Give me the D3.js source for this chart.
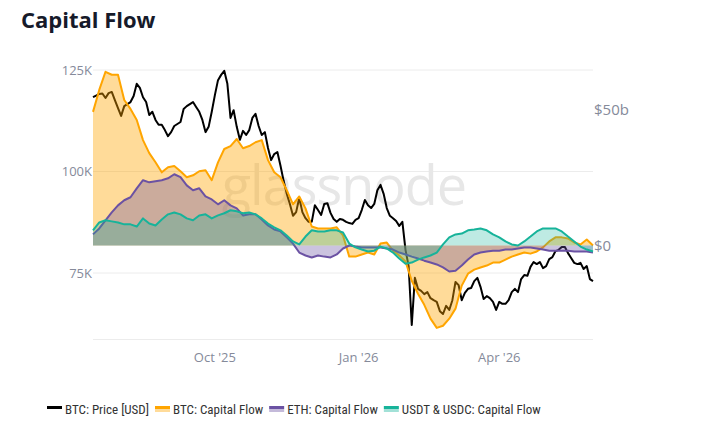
<!DOCTYPE html>
<html><head><meta charset="utf-8">
<script src="https://cdn.jsdelivr.net/npm/d3@7"></script>
<style>
body{margin:0;background:#fff;}
svg{display:block;font-family:"Open Sans","Noto Sans",sans-serif;}
</style></head><body>
<svg id="c" width="718" height="430"></svg>
<script>
// ---------- data ----------
const startDate = "2025-07-15";
const priceStepDays = 2;   // price sampled every 2 days
const flowStepDays = 4;    // flows sampled every 4 days
// BTC price, thousands of USD
const btcPrice = [
 118.3,118.7,119.1,119.2,118.1,119.3,119.6,117.6,115.6,113.7,
 116.1,116.6,117.1,118.6,121.6,120.6,118.3,117.1,113.9,114.7,
 112.7,111.5,111.5,110.2,108.7,109.7,111.2,111.7,112.2,115.4,
 116.1,116.6,117.1,115.9,114.7,112.7,109.7,111.0,114.7,118.8,
 122.5,123.8,124.8,121.6,113.2,115.1,111.0,107.8,110.0,109.0,
 110.2,113.2,114.2,111.2,109.0,109.7,105.8,102.8,104.3,104.8,
 101.4,97.7,94.5,92.0,89.1,90.0,93.5,90.0,88.5,87.6,
 87.6,91.7,90.5,89.3,92.0,92.2,89.8,88.3,87.6,88.3,
 88.1,87.6,87.3,87.1,88.1,88.5,90.5,93.0,91.7,91.0,
 92.0,95.4,96.7,94.5,91.0,89.1,88.5,87.8,86.6,87.6,
 80.7,76.7,62.2,73.8,71.1,70.6,69.8,70.3,68.8,68.3,
 67.9,65.6,64.9,66.9,65.9,68.3,72.8,72.0,68.3,70.1,
 71.1,71.3,73.0,73.8,71.6,68.6,69.3,68.8,67.9,65.9,
 67.9,67.4,67.4,68.3,70.3,71.1,70.3,73.5,74.5,74.3,
 76.5,77.7,77.2,77.7,76.2,76.7,78.4,78.9,80.4,80.7,
 81.4,81.4,79.9,78.7,77.5,77.2,77.5,76.0,76.7,73.5,
 73.0];
// Capital flows, billions of USD
const btcFlow = [49.3,57.4,64.1,63.0,63.0,53.7,50.4,46.3,38.9,34.1,
 30.7,27.0,28.9,29.3,27.4,25.2,25.9,27.4,27.8,24.1,
 30.7,35.6,36.7,39.3,35.9,36.7,38.1,38.9,31.5,27.0,
 25.2,20.4,15.2,18.1,13.7,7.0,6.3,6.3,6.3,6.7,
 3.7,-4.1,-4.1,-3.3,-2.6,-3.3,0.7,1.1,-1.9,-3.7,
 -5.9,-13.0,-17.8,-21.9,-27.0,-30.4,-29.6,-27.0,-23.3,-14.8,
 -10.4,-8.9,-8.1,-7.4,-6.3,-6.3,-5.2,-4.1,-3.3,-2.6,
 -3.0,-2.2,-0.7,1.5,3.0,3.0,2.6,1.1,0.4,2.2,0.0];
const ethFlow = [4.1,6.3,9.3,12.2,14.8,16.7,17.8,21.1,24.1,23.3,
 23.7,24.1,24.8,26.3,25.2,22.2,20.4,21.1,18.1,17.0,
 15.2,16.7,14.8,13.7,11.1,11.5,11.5,9.6,7.4,5.9,
 5.2,3.0,0.7,-2.6,-3.7,-4.4,-3.7,-4.1,-4.4,-3.3,
 -1.1,0.0,-0.4,-0.7,-0.7,-0.7,-0.7,-1.1,-1.5,-2.6,
 -3.3,-4.1,-4.8,-5.6,-6.3,-7.0,-8.1,-9.6,-9.3,-7.4,
 -5.2,-3.3,-2.6,-2.2,-1.9,-1.9,-1.5,-1.5,-1.1,-0.7,
 -0.7,-1.1,-1.5,-1.9,-1.9,-1.9,-1.9,-2.2,-2.2,-2.2,-2.6];
const stableFlow = [5.6,8.5,9.3,8.9,8.5,7.8,7.8,7.0,10.0,8.1,
 7.4,9.6,11.5,12.2,11.5,10.0,9.3,11.1,11.5,10.0,
 11.1,11.9,13.0,12.6,11.9,12.2,11.5,10.0,8.1,6.7,
 5.6,3.7,1.5,0.4,3.3,5.6,5.2,5.2,5.6,5.6,
 4.8,0.7,-0.7,-1.5,-2.2,-1.9,-0.4,-1.1,-2.6,-4.8,
 -6.7,-6.3,-5.2,-4.4,-3.7,-2.6,0.4,3.0,4.1,4.4,
 5.6,5.9,6.3,5.6,4.1,3.0,1.5,0.4,0.0,1.5,
 3.3,5.2,6.3,6.3,6.3,5.2,3.3,1.5,-0.4,-1.5,-2.2];

const priceTicks = [75, 100, 125];
const priceTickLabels = ["75K", "100K", "125K"];
const flowTicks = [0, 50];
const flowTickLabels = ["$0", "$50b"];
const dateTicks = ["2025-10-01", "2026-01-01", "2026-04-01"];
const dateTickLabels = ["Oct '25", "Jan '26", "Apr '26"];
const seriesNames = ["BTC: Price [USD]", "BTC: Capital Flow", "ETH: Capital Flow", "USDT & USDC: Capital Flow"];
const seriesColors = ["#000000", "#ffa500", "#6b52a3", "#17b39a"];

// ---------- setup ----------
const svg = d3.select("#c");
const parse = d3.utcParse("%Y-%m-%d");
const t0 = parse(startDate);
const priceDates = btcPrice.map((_, i) => d3.utcDay.offset(t0, i * priceStepDays));
const flowDates = btcFlow.map((_, i) => d3.utcDay.offset(t0, i * flowStepDays));

const x = d3.scaleUtc().domain([t0, flowDates[flowDates.length - 1]]).range([93, 593]);
const yP = d3.scaleLinear().domain([75, 125]).range([273, 70]);
const yF = d3.scaleLinear().domain([0, 50]).range([245.5, 110]);

// title
svg.append("text").attr("x", 21).attr("y", 28).text("Capital Flow")
  .attr("font-size", 22).attr("font-weight", 700).attr("fill", "#161a2a");

// grid
const gGrid = svg.append("g");
gGrid.selectAll("line").data(priceTicks).join("line")
  .attr("x1", 93).attr("x2", 593)
  .attr("y1", d => yP(d)).attr("y2", d => yP(d))
  .attr("stroke", "#ececec").attr("stroke-width", 1);
svg.append("line").attr("x1", 93).attr("x2", 593).attr("y1", 339.5).attr("y2", 339.5)
  .attr("stroke", "#ececec");

// left axis labels
svg.append("g").selectAll("text").data(priceTicks).join("text")
  .attr("x", 92).attr("y", d => yP(d)).attr("dy", "0.35em")
  .attr("text-anchor", "end").attr("font-size", 13).attr("fill", "#858a9a")
  .text((d, i) => priceTickLabels[i]);
// right axis labels
svg.append("g").selectAll("text").data(flowTicks).join("text")
  .attr("x", 594).attr("y", d => yF(d)).attr("dy", "0.35em")
  .attr("text-anchor", "start").attr("font-size", 15).attr("fill", "#858a9a")
  .text((d, i) => flowTickLabels[i]);
// x axis labels
svg.append("g").selectAll("text").data(dateTicks).join("text")
  .attr("x", d => x(parse(d))).attr("y", 362)
  .attr("text-anchor", "middle").attr("font-size", 13).attr("fill", "#858a9a")
  .text((d, i) => dateTickLabels[i]);

// watermark
svg.append("text").attr("x", 344).attr("y", 205).attr("text-anchor", "middle")
  .attr("font-size", 54).attr("fill", "#e7e7e7").attr("font-family", "Open Sans")
  .attr("letter-spacing", -1).text("glassnode");

// price line (beneath flow areas)
const priceLine = d3.line().x((d, i) => x(priceDates[i])).y(d => yP(d));
svg.append("path").attr("d", priceLine(btcPrice)).attr("fill", "none")
  .attr("stroke", seriesColors[0]).attr("stroke-width", 2).attr("stroke-linejoin", "round");

function flow(values, color, fillOpacity) {
  const area = d3.area().x((d, i) => x(flowDates[i])).y0(yF(0)).y1(d => yF(d));
  const line = d3.line().x((d, i) => x(flowDates[i])).y(d => yF(d));
  svg.append("path").attr("d", area(values)).attr("fill", color).attr("fill-opacity", fillOpacity);
  svg.append("path").attr("d", line(values)).attr("fill", "none")
    .attr("stroke", color).attr("stroke-width", 2).attr("stroke-linejoin", "round");
}
flow(btcFlow, seriesColors[1], 0.4);
flow(ethFlow, seriesColors[2], 0.35);
flow(stableFlow, seriesColors[3], 0.28);

// legend (laid out left to right)
const leg = svg.append("g");
let lx = 47;
seriesNames.forEach((name, i) => {
  const g = leg.append("g").attr("transform", `translate(${lx},0)`);
  g.append("rect").attr("x", 0).attr("y", 406).attr("width", 15).attr("height", 3).attr("fill", seriesColors[i]);
  if (i > 0) g.append("rect").attr("x", 0).attr("y", 409).attr("width", 15).attr("height", 3)
    .attr("fill", seriesColors[i]).attr("fill-opacity", 0.4);
  const t = g.append("text").attr("x", 18).attr("y", 414)
    .attr("font-size", 13).attr("font-family", "'Liberation Sans Narrow','Roboto Condensed',Roboto,sans-serif")
    .attr("fill", "#333").text(name);
  lx += 18 + t.node().getComputedTextLength() + 6;
});
</script>
</body></html>
